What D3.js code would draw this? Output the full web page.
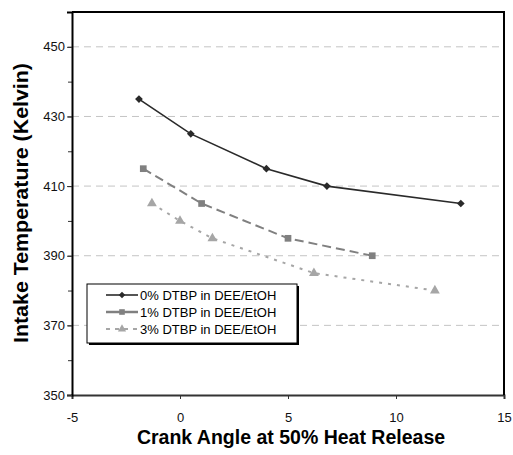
<!DOCTYPE html>
<html>
<head>
<meta charset="utf-8">
<script src="https://cdn.jsdelivr.net/npm/d3@7"></script>
<style>
  body { margin: 0; background: #fff; }
  svg { font-family: "Liberation Sans", Arial, sans-serif; }
</style>
</head>
<body>
<svg id="chart" width="513" height="455"></svg>
<script>
// Data
const seriesNames = ["0% DTBP in DEE/EtOH", "1% DTBP in DEE/EtOH", "3% DTBP in DEE/EtOH"];
const crank0 = [-1.9, 0.5, 4.0, 6.8, 13.0];
const temp0 = [435, 425, 415, 410, 405];
const crank1 = [-1.7, 1.0, 5.0, 8.9];
const temp1 = [415, 405, 395, 390];
const crank3 = [-1.3, 0.0, 1.5, 6.2, 11.8];
const temp3 = [405, 400, 395, 385, 380];
const xTicks = [-5, 0, 5, 10, 15];
const yTicks = [350, 370, 390, 410, 430, 450];

// diamond = square turned 45 degrees
const series = [
  { name: seriesNames[0], x: crank0, y: temp0, color: "#2a2a2a", dash: null, width: 1.6, symbol: d3.symbolSquare, size: 30, rot: 45 },
  { name: seriesNames[1], x: crank1, y: temp1, color: "#808080", dash: "9,5", width: 2, symbol: d3.symbolSquare, size: 45, rot: 0 },
  { name: seriesNames[2], x: crank3, y: temp3, color: "#a6a6a6", dash: "3,6", width: 2, symbol: d3.symbolTriangle, size: 42, rot: 0 },
];

const margin = { top: 12, right: 9, bottom: 60, left: 72 };
const svg = d3.select("#chart");
const W = 513, H = 455;
const width = W - margin.left - margin.right;
const height = H - margin.top - margin.bottom;

const g = svg.append("g").attr("transform", `translate(${margin.left},${margin.top})`);

const x = d3.scaleLinear().domain([-5, 15]).range([0, width]);
const y = d3.scaleLinear().domain([350, 460]).range([height, 0]);

// gridlines
g.append("g")
  .selectAll("line")
  .data(yTicks.filter((d) => d > 350))
  .enter()
  .append("line")
  .attr("x1", 0)
  .attr("x2", width)
  .attr("y1", (d) => y(d))
  .attr("y2", (d) => y(d))
  .attr("stroke", "#c4c4c4")
  .attr("stroke-dasharray", "7,5");

// x axis
const xAxis = g.append("g")
  .attr("transform", `translate(0,${height})`)
  .call(d3.axisBottom(x).tickValues(xTicks).tickSize(4).tickPadding(14).tickFormat((d) => String(d)));
xAxis.select(".domain").attr("stroke", "#333").attr("stroke-width", 2);
xAxis.selectAll(".tick line").attr("stroke", "#333");
xAxis.selectAll("text").style("font-size", "13px").attr("fill", "#111");

// y axis with minor ticks
const yAxisMinor = g.append("g")
  .call(d3.axisLeft(y).tickValues(d3.range(350, 460, 10)).tickSize(4).tickFormat(""));
yAxisMinor.select(".domain").remove();
yAxisMinor.selectAll(".tick line").attr("stroke", "#333");

const yAxis = g.append("g")
  .call(d3.axisLeft(y).tickValues(yTicks).tickSize(5).tickPadding(2).tickFormat((d) => String(d)));
yAxis.select(".domain").attr("stroke", "#000").attr("stroke-width", 2);
yAxis.selectAll(".tick line").attr("stroke", "#333");
yAxis.selectAll("text").style("font-size", "13px").attr("fill", "#111");

// top and right border
g.append("path")
  .attr("d", `M0,0H${width}V${height}`)
  .attr("fill", "none")
  .attr("stroke", "#000")
  .attr("stroke-width", 2);

// series
series.forEach((s) => {
  const pts = s.x.map((v, i) => [v, s.y[i]]);
  const line = d3.line().x((d) => x(d[0])).y((d) => y(d[1]));
  g.append("path")
    .datum(pts)
    .attr("d", line)
    .attr("fill", "none")
    .attr("stroke", s.color)
    .attr("stroke-width", s.width)
    .attr("stroke-dasharray", s.dash);
  g.selectAll(null)
    .data(pts)
    .enter()
    .append("path")
    .attr("d", d3.symbol().type(s.symbol).size(s.size))
    .attr("transform", (d) => `translate(${x(d[0])},${y(d[1])}) rotate(${s.rot})`)
    .attr("fill", s.color);
});

// legend
const lg = svg.append("g").attr("transform", "translate(87,284)");
lg.append("rect").attr("x", 2).attr("y", 2).attr("width", 210).attr("height", 59).attr("fill", "#000");
lg.append("rect").attr("x", 0).attr("y", 0).attr("width", 210).attr("height", 59)
  .attr("fill", "#fff").attr("stroke", "#000").attr("stroke-width", 1);
series.forEach((s, i) => {
  const cy = 11 + i * 17;
  lg.append("line")
    .attr("x1", 19).attr("x2", 51).attr("y1", cy).attr("y2", cy)
    .attr("stroke", s.color).attr("stroke-width", i === 1 ? 2.5 : s.width)
    .attr("stroke-dasharray", i === 2 ? "4,5" : null);
  lg.append("path")
    .attr("d", d3.symbol().type(s.symbol).size(s.size * 0.7))
    .attr("transform", `translate(35,${cy}) rotate(${s.rot})`)
    .attr("fill", s.color);
  lg.append("text")
    .attr("x", 53).attr("y", cy + 5)
    .style("font-size", "13px")
    .attr("fill", "#000")
    .text(s.name);
});

// axis titles
svg.append("text")
  .attr("x", margin.left + width / 2 + 3)
  .attr("y", 444)
  .attr("text-anchor", "middle")
  .style("font-size", "19.5px")
  .style("font-weight", "bold")
  .text("Crank Angle at 50% Heat Release");

// the y title is squeezed along its length in the original
svg.append("text")
  .attr("transform", "translate(28,343) rotate(-90)")
  .attr("textLength", 280)
  .attr("lengthAdjust", "spacingAndGlyphs")
  .style("font-size", "19.5px")
  .style("font-weight", "bold")
  .text("Intake Temperature (Kelvin)");
</script>
</body>
</html>
